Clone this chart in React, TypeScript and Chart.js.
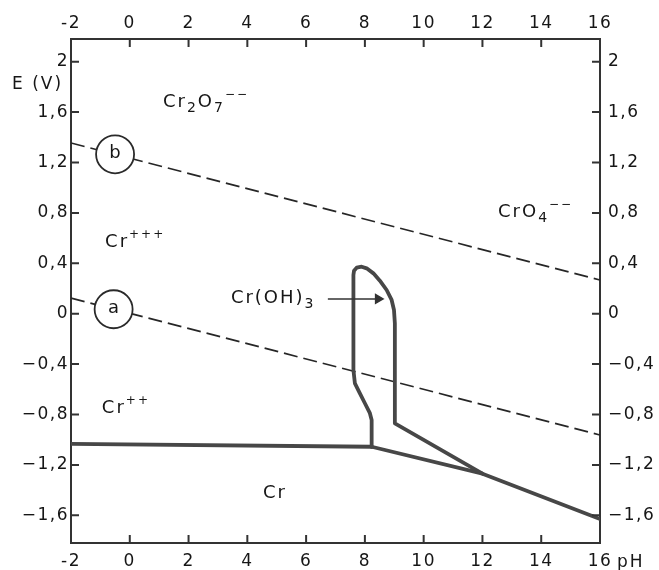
import { useEffect, useRef } from 'react';
import { Chart, registerables } from 'chart.js';

Chart.register(...registerables);

// ---- tick values / labels ----
const xTicks = [-2, 0, 2, 4, 6, 8, 10, 12, 14, 16];
const xTickLabels = ['-2', '0', '2', '4', '6', '8', '10', '12', '14', '16'];
const yTicks = [-1.6, -1.2, -0.8, -0.4, 0, 0.4, 0.8, 1.2, 1.6, 2];
const yTickLabelsLeft = ['−1,6', '−1,2', '−0,8', '−0,4', '0', '0,4', '0,8', '1,2', '1,6', '2'];
const yTickLabelsRight = ['−1,6', '−1,2', '−0,8', '−0,4', '0', '0,4', '0,8', '1,2', '1,6', '2'];

// ---- series (pH, E) ----
const lineB_pH = [-2, 16];
const lineB_E = [1.355, 0.267];
const lineA_pH = [-2, 16];
const lineA_E = [0.124, -0.963];
const crLine_pH = [-2, 8.23];
const crLine_E = [-1.034, -1.056];
const lowerLine_pH = [8.23, 12.0, 16];
const lowerLine_E = [-1.056, -1.27, -1.63];
const hydroxide_pH = [8.23, 8.23, 8.17, 8.0, 7.83, 7.66, 7.61, 7.61, 7.63, 7.72, 7.89, 8.06, 8.29, 8.51, 8.74, 8.91, 8.99, 9.02, 9.02, 12.0];
const hydroxide_E = [-1.056, -0.844, -0.79, -0.711, -0.632, -0.553, -0.447, 0.307, 0.341, 0.365, 0.373, 0.36, 0.32, 0.262, 0.188, 0.109, 0.029, -0.076, -0.87, -1.27];
const marker_pH = [-0.5, -0.55];
const marker_E = [1.265, 0.035];
const markerText = ['b', 'a'];
const arrow_pH = [6.74, 8.45];
const arrow_E = [0.117, 0.117];

// ---- region labels ----
type Seg = { t: string; k?: 'sub' | 'sup' };
const regionLabels: Seg[][] = [
  [{ t: 'Cr' }, { t: '2', k: 'sub' }, { t: 'O' }, { t: '7', k: 'sub' }, { t: '−−', k: 'sup' }],
  [{ t: 'CrO' }, { t: '4', k: 'sub' }, { t: '−−', k: 'sup' }],
  [{ t: 'Cr' }, { t: '+++', k: 'sup' }],
  [{ t: 'Cr' }, { t: '++', k: 'sup' }],
  [{ t: 'Cr' }],
  [{ t: 'Cr(OH)' }, { t: '3', k: 'sub' }],
];
const regionLabel_pH = [1.13, 12.53, -0.84, -0.95, 4.53, 3.44];
const regionLabel_E = [1.64, 0.767, 0.529, -0.788, -1.463, 0.085];

const FONT = '"DejaVu Sans", "Liberation Sans", sans-serif';
const INK = '#161616';
const LINE = '#474747';

const zip = (xs: number[], ys: number[]) => xs.map((x, i) => ({ x, y: ys[i] }));

const spacingPlugin = {
  id: 'spacing',
  beforeDraw(chart: any) {
    chart.ctx.letterSpacing = '1.5px';
  },
  afterDraw(chart: any) {
    chart.ctx.letterSpacing = '0px';
  },
};

const ticksPlugin = {
  id: 'inTicks',
  afterDraw(chart: any) {
    const { ctx, chartArea: a } = chart;
    const L = 8;
    ctx.save();
    ctx.strokeStyle = '#333';
    ctx.lineWidth = 2;
    ctx.beginPath();
    for (const id of ['x', 'x2']) {
      const s = chart.scales[id];
      for (const t of s.ticks) {
        const p = s.getPixelForValue(t.value);
        if (id === 'x') { ctx.moveTo(p, a.bottom); ctx.lineTo(p, a.bottom - L); }
        else { ctx.moveTo(p, a.top); ctx.lineTo(p, a.top + L); }
      }
    }
    for (const id of ['y', 'y2']) {
      const s = chart.scales[id];
      for (const t of s.ticks) {
        const p = s.getPixelForValue(t.value);
        if (id === 'y') { ctx.moveTo(a.left, p); ctx.lineTo(a.left + L, p); }
        else { ctx.moveTo(a.right, p); ctx.lineTo(a.right - L, p); }
      }
    }
    ctx.stroke();
    ctx.restore();
  },
};

const textPlugin = {
  id: 'texts',
  afterDraw(chart: any) {
    const { ctx, chartArea: a } = chart;
    const xs = chart.scales.x;
    const ys = chart.scales.y;
    ctx.save();
    ctx.letterSpacing = '2px';
    ctx.fillStyle = INK;
    ctx.textBaseline = 'alphabetic';
    ctx.textAlign = 'left';
    regionLabels.forEach((segs, i) => {
      let cx = xs.getPixelForValue(regionLabel_pH[i]);
      const by = ys.getPixelForValue(regionLabel_E[i]);
      for (const s of segs) {
        const size = s.k === 'sub' ? 14 : s.k === 'sup' ? 12 : 18;
        ctx.font = `${size}px ${FONT}`;
        const dy = s.k === 'sub' ? 5 : s.k === 'sup' ? -9 : 0;
        ctx.fillText(s.t, cx, by + dy);
        cx += ctx.measureText(s.t).width;
      }
    });
    // circle letters
    const meta = chart.getDatasetMeta(0);
    ctx.font = `18px ${FONT}`;
    ctx.textAlign = 'center';
    ctx.textBaseline = 'middle';
    ctx.letterSpacing = '0px';
    meta.data.forEach((el: any, i: number) => {
      ctx.fillText(markerText[i], el.x, el.y - 1);
    });
    // axis titles
    ctx.letterSpacing = '2px';
    ctx.textAlign = 'left';
    ctx.textBaseline = 'alphabetic';
    ctx.font = `17px ${FONT}`;
    ctx.fillText('E (V)', a.left - 59, ys.getPixelForValue(1.78));
    ctx.font = `17px ${FONT}`;
    ctx.fillText('pH', xs.getPixelForValue(16) + 17, a.bottom + 24);
    ctx.restore();
  },
};

const xScale = (position: 'top' | 'bottom', h: number, pad: number) => ({
  type: 'linear' as const,
  position,
  min: -2,
  max: 16,
  afterBuildTicks: (s: any) => { s.ticks = xTicks.map((v) => ({ value: v })); },
  afterFit: (s: any) => { s.height = h; },
  grid: { display: false, drawTicks: false },
  border: { display: true, color: '#333', width: 2 },
  ticks: {
    callback: (_v: any, i: number) => xTickLabels[i],
    font: { family: FONT, size: 17 },
    color: INK,
    padding: pad,
    maxRotation: 0,
    autoSkip: false,
  },
});

const yScale = (position: 'left' | 'right', w: number, pad: number, labels: string[]) => ({
  type: 'linear' as const,
  position,
  min: -1.82,
  max: 2.18,
  afterBuildTicks: (s: any) => { s.ticks = yTicks.map((v) => ({ value: v })); },
  afterFit: (s: any) => { s.width = w; },
  grid: { display: false, drawTicks: false },
  border: { display: true, color: '#333', width: 2 },
  ticks: {
    callback: (_v: any, i: number) => labels[i],
    font: { family: FONT, size: 17 },
    color: INK,
    padding: pad,
    autoSkip: false,
  },
});

export default function App() {
  const ref = useRef<HTMLCanvasElement | null>(null);
  useEffect(() => {
    document.body.style.margin = '0';
    const canvas = ref.current;
    if (!canvas) return;
    const thick = { borderColor: LINE, borderWidth: 3.8, pointRadius: 0, showLine: true, borderCapStyle: 'round', borderJoinStyle: 'round', tension: 0 };
    const dashed = { borderColor: '#262626', borderWidth: 1.7, pointRadius: 0, showLine: true, borderDash: [14, 6] };
    const chart = new Chart(canvas, {
      type: 'scatter',
      data: {
        datasets: [
          {
            data: zip(marker_pH, marker_E),
            pointRadius: 19,
            pointBackgroundColor: '#fff',
            pointBorderColor: '#2a2a2a',
            pointBorderWidth: 1.8,
            showLine: false,
          },
          {
            data: zip(arrow_pH, arrow_E),
            borderColor: '#333',
            borderWidth: 1.5,
            showLine: true,
            pointRadius: [0, 5],
            pointStyle: 'triangle',
            rotation: 90,
            pointBackgroundColor: '#333',
            pointBorderColor: '#333',
          },
          { data: zip(hydroxide_pH, hydroxide_E), ...thick },
          { data: zip(crLine_pH, crLine_E), ...thick },
          { data: zip(lowerLine_pH, lowerLine_E), ...thick },
          { data: zip(lineB_pH, lineB_E), ...dashed },
          { data: zip(lineA_pH, lineA_E), ...dashed },
        ] as any,
      },
      options: {
        animation: false,
        responsive: false,
        devicePixelRatio: 1,
        events: [],
        layout: { padding: 0 },
        plugins: { legend: { display: false }, tooltip: { enabled: false } },
        scales: {
          x: xScale('bottom', 27, 8),
          x2: xScale('top', 39, 5),
          y: yScale('left', 71, 2, yTickLabelsLeft),
          y2: yScale('right', 59, 8, yTickLabelsRight),
        } as any,
      },
      plugins: [spacingPlugin, ticksPlugin, textPlugin],
    });
    return () => chart.destroy();
  }, []);
  return (
    <div style={{ position: 'absolute', left: 0, top: 0, width: 659, height: 570, background: '#fff' }}>
      <canvas ref={ref} width={659} height={570} style={{ width: 659, height: 570, display: 'block' }} />
    </div>
  );
}
